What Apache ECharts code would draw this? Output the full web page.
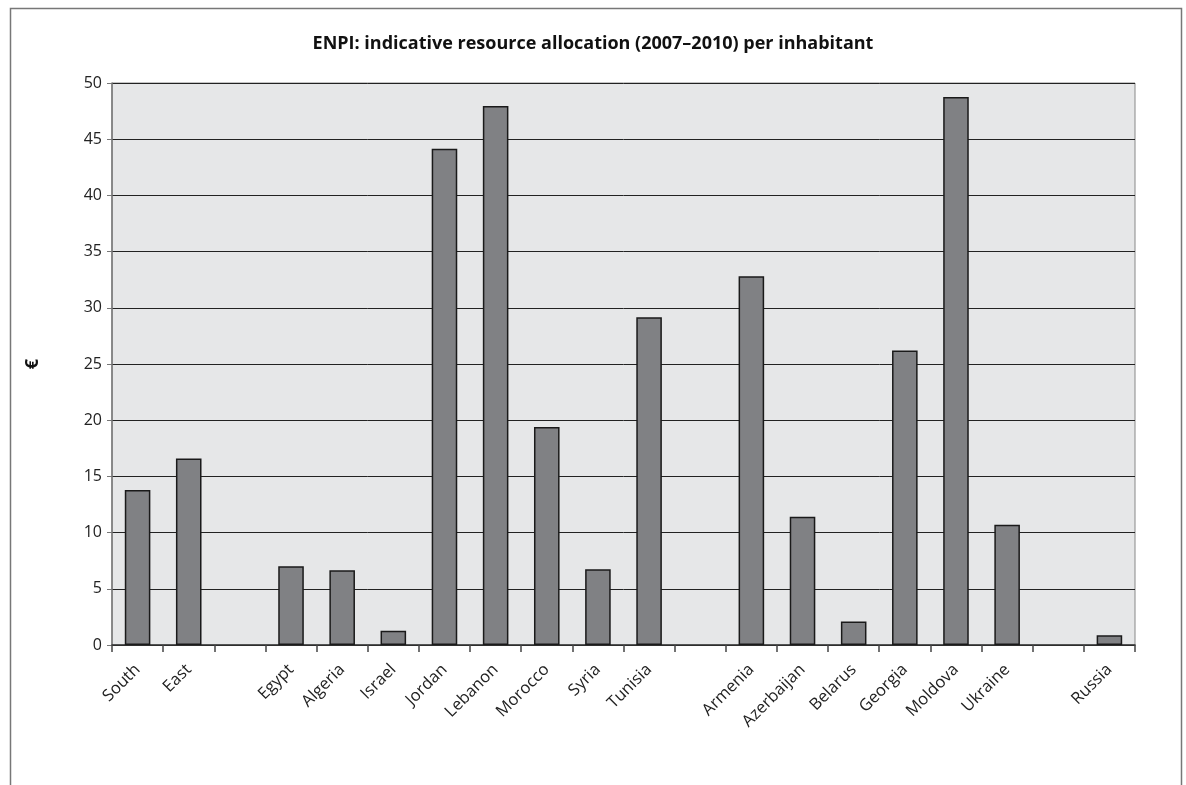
<!DOCTYPE html>
<html>
<head>
  <meta charset="utf-8">
  <title>ENPI allocation per inhabitant</title>
  <script src="https://cdn.jsdelivr.net/npm/echarts/dist/echarts.min.js"></script>
  <style>
    html, body { margin: 0; padding: 0; background: #fff; }
    #chart { width: 1186px; height: 785px; }
  </style>
</head>
<body>
  <div id="chart"></div>
  <script>
    // blank entries are the gaps between groups
    const countries = ['South', 'East', '', 'Egypt', 'Algeria', 'Israel', 'Jordan', 'Lebanon', 'Morocco', 'Syria', 'Tunisia',
      '', 'Armenia', 'Azerbaijan', 'Belarus', 'Georgia', 'Moldova', 'Ukraine', '', 'Russia'];
    const perInhabitant = [13.8, 16.6, null, 7.0, 6.65, 1.27, 44.15, 47.95, 19.4, 6.75, 29.15,
      null, 32.8, 11.4, 2.1, 26.2, 48.75, 10.7, null, 0.86];
    const yTicks = { min: 0, max: 50, step: 5 };

    const chart = echarts.init(document.getElementById('chart'));
    const font = '"Open Sans", "Noto Sans", sans-serif';

    chart.setOption({
      animation: false,
      title: {
        text: 'ENPI: indicative resource allocation (2007\u20132010) per inhabitant',
        left: 'center',
        top: 30,
        textStyle: { fontFamily: font, fontWeight: 'bold', fontSize: 18, color: '#111' }
      },
      graphic: [{
        type: 'rect',
        left: 8, top: 6,
        shape: { width: 1171, height: 820 },
        style: { fill: 'none', stroke: '#777', lineWidth: 1.5 },
        silent: true
      }],
      grid: {
        left: 112, right: 51, top: 83, bottom: 140,
        show: true,
        backgroundColor: '#e6e7e8',
        borderColor: '#888',
        borderWidth: 1
      },
      xAxis: {
        type: 'category',
        data: countries,
        axisLine: { lineStyle: { color: '#333', width: 1.5 } },
        axisTick: { show: true, length: 7, lineStyle: { color: '#444', width: 1.5 } },
        axisLabel: {
          interval: 0, rotate: 45, margin: 22,
          fontFamily: font, fontSize: 16.5, color: '#222'
        }
      },
      yAxis: {
        type: 'value',
        min: yTicks.min, max: yTicks.max, interval: yTicks.step,
        name: '\u20ac',
        nameLocation: 'middle',
        nameGap: 70,
        nameRotate: 90,
        nameTextStyle: { fontFamily: font, fontWeight: 'bold', fontSize: 18, color: '#111' },
        axisLine: { show: true, lineStyle: { color: '#777', width: 1.5 } },
        axisTick: { show: true, length: 5, lineStyle: { color: '#777' } },
        axisLabel: { margin: 10, fontFamily: font, fontSize: 16, color: '#222' },
        splitLine: { lineStyle: { color: '#222', width: 1 } }
      },
      series: [{
        type: 'bar',
        data: perInhabitant,
        barWidth: '50%',
        itemStyle: { color: '#808184', borderColor: '#1a1a1a', borderWidth: 1.5 }
      }]
    });
  </script>
</body>
</html>
